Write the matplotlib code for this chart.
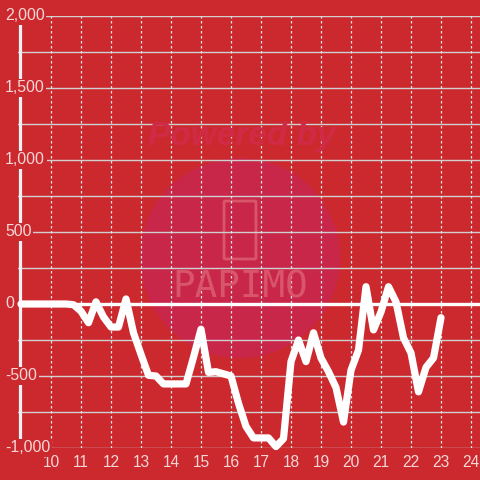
import matplotlib
matplotlib.use("Agg")
import matplotlib.pyplot as plt
import numpy as np
from matplotlib.patches import Circle, FancyBboxPatch
from matplotlib.transforms import blended_transform_factory

plt.rcParams['font.family'] = ['Liberation Sans', 'DejaVu Sans']

# ---- data ----
x_vals = [9.0, 9.25, 9.5, 9.75, 10.0, 10.25, 10.5, 10.75, 11.0, 11.25, 11.5, 11.75,
          12.0, 12.25, 12.5, 12.75, 13.0, 13.25, 13.5, 13.75, 14.0, 14.25, 14.5,
          14.75, 15.0, 15.25, 15.5, 15.75, 16.0, 16.25, 16.5, 16.75, 17.0, 17.25,
          17.5, 17.75, 18.0, 18.25, 18.5, 18.75, 19.0, 19.25, 19.5, 19.75, 20.0,
          20.25, 20.5, 20.75, 21.0, 21.25, 21.5, 21.75, 22.0, 22.25, 22.5, 22.75, 23.0]
y_vals = [0, 0, 0, 0, 0, 0, 0, -5, -50, -130, 15, -90,
          -160, -160, 35, -200, -350, -495, -500, -555, -555, -555, -555,
          -370, -175, -475, -470, -485, -500, -690, -850, -930, -930, -930,
          -990, -935, -400, -250, -400, -200, -375, -470, -580, -820, -460,
          -320, 120, -180, -55, 120, 15, -235, -340, -610, -440, -375, -95]
x_ticks = list(range(10, 25))
x_tick_labels = [str(v) for v in x_ticks]
y_grid = [-1000, -750, -500, -250, 0, 250, 500, 750, 1000, 1250, 1500, 1750, 2000]
y_label_vals = [-1000, -500, 0, 500, 1000, 1500, 2000]
y_label_text = ['-1,000', '-500', '0', '500', '1,000', '1,500', '2,000']

BG = '#cc292e'
GRID = '#cfcfcf'
TXT = '#f5d7d7'

W = H = 480
fig = plt.figure(figsize=(4.8, 4.8), dpi=100, facecolor=BG)
left_px, right_px, bottom_px, top_px = 18, 480, 448, 16
ax = fig.add_axes([left_px / W, 1 - bottom_px / H, (right_px - left_px) / W,
                   (bottom_px - top_px) / H])
ax.set_facecolor('none')
ax.set_xlim(8.9, 10 + (480 - 51) / 30)
ax.set_ylim(-1000, 2000)
for s in ax.spines.values():
    s.set_visible(False)

# watermark
circ = Circle((0.5, 1 - 258 / H), 100 / W, transform=fig.transFigure,
              facecolor='#c9274a', edgecolor='none', zorder=0.2, clip_on=False)
ax.add_patch(circ)
fig.text(242 / W, 1 - 136 / H, 'Powered by', ha='center', va='center',
         fontsize=24, fontstyle='italic', fontweight='bold', color='#cf2b47',
         zorder=0.3)
fig.text(240 / W, 1 - 287 / H, 'PAPIMO', ha='center', va='center',
         fontsize=27, family='DejaVu Sans Mono', color='#d9566a', zorder=0.3)
phone = FancyBboxPatch((225 / W, 1 - 258 / H), 30 / W, 56 / H,
                       boxstyle='round,pad=0.002', transform=fig.transFigure,
                       facecolor='none', edgecolor='#d9566a', lw=2, zorder=0.3,
                       clip_on=False)
ax.add_patch(phone)

# grid
for g in y_grid:
    if g == 0:
        continue
    ax.axhline(g, color=GRID, lw=1.0, zorder=1)
for t in x_ticks:
    ax.axvline(t, color='#e6e6e6', lw=0.9, ls=(0, (2, 2)), zorder=1)

# zero line and y axis line
ax.axhline(0, color='white', lw=2.4, zorder=2)
ax.plot([8.98, 8.98], [-940, 1950], color='#f2f2f2', lw=2.3, zorder=2,
        solid_capstyle='butt')

# data line
ax.plot(x_vals, y_vals, color='white', lw=5.2, zorder=3,
        solid_joinstyle='round', solid_capstyle='round', clip_on=False)

# y labels
tr = blended_transform_factory(fig.transFigure, ax.transData)
for v, s in zip(y_label_vals, y_label_text):
    fig.text(5 / W, v, s, transform=tr, ha='left', va='center', fontsize=11.4,
             color=TXT, bbox=dict(facecolor=BG, edgecolor='none', pad=1.2))

# x labels
ax.set_xticks(x_ticks)
ax.set_xticklabels(x_tick_labels, color=TXT, fontsize=11.2)
ax.tick_params(axis='x', length=0, pad=5)
ax.set_yticks([])

fig.savefig('out.png', dpi=100, facecolor=BG)
